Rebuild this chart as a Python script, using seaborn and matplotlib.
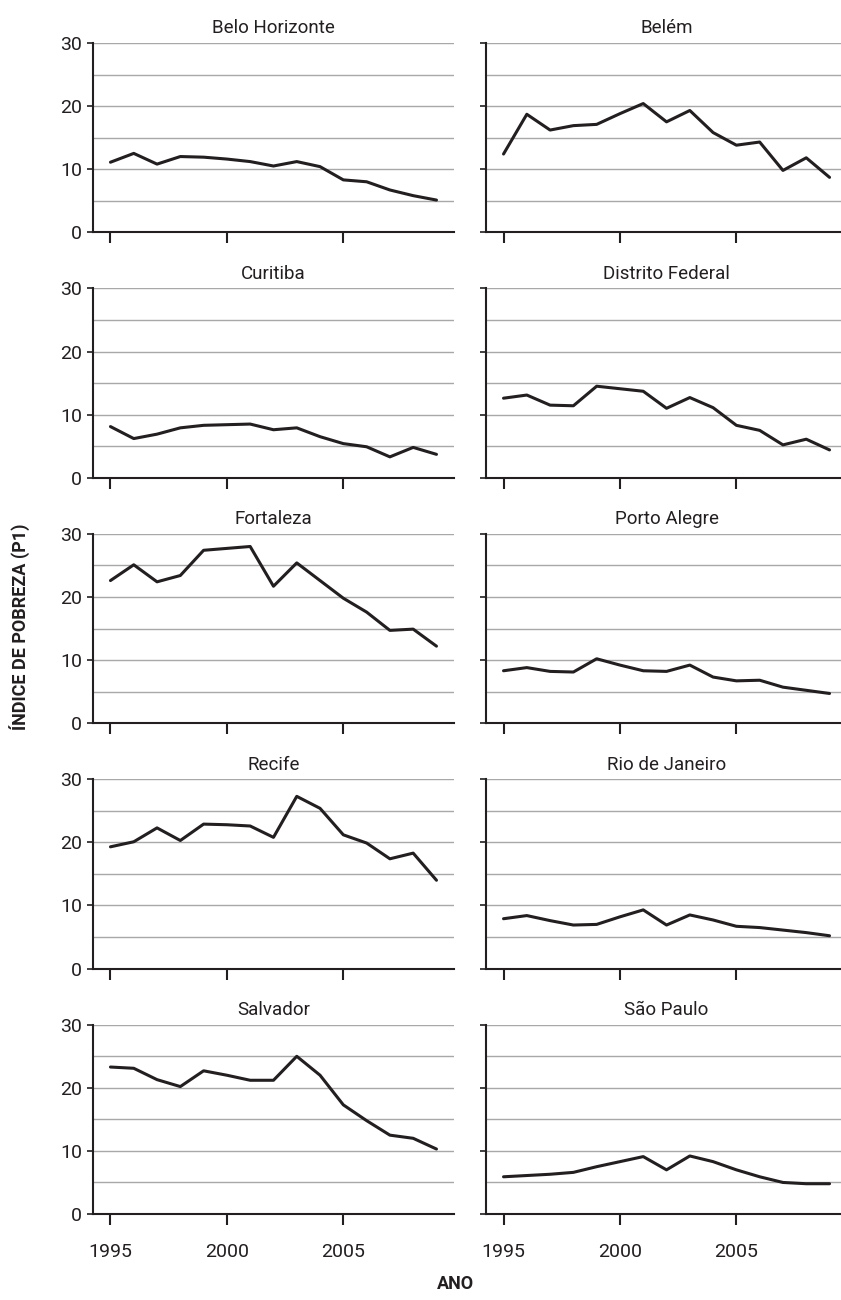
import pandas as pd
import seaborn as sns
import matplotlib.pyplot as plt

# Poverty index (P1) by metropolitan region, 1995-2009
anos = list(range(1995, 2010))

cidades = ["Belo Horizonte", "Belém", "Curitiba", "Distrito Federal", "Fortaleza",
           "Porto Alegre", "Recife", "Rio de Janeiro", "Salvador", "São Paulo"]

belo_horizonte = [11.1, 12.5, 10.8, 12.0, 11.9, 11.6, 11.2, 10.5, 11.2, 10.4, 8.3, 8.0, 6.7, 5.8, 5.1]
belem = [12.4, 18.7, 16.2, 16.9, 17.1, 18.8, 20.4, 17.5, 19.3, 15.8, 13.8, 14.3, 9.8, 11.8, 8.7]
curitiba = [8.1, 6.2, 6.9, 7.9, 8.3, 8.4, 8.5, 7.6, 7.9, 6.5, 5.4, 4.9, 3.3, 4.8, 3.7]
distrito_federal = [12.6, 13.1, 11.5, 11.4, 14.5, 14.1, 13.7, 11.0, 12.7, 11.1, 8.3, 7.5, 5.2, 6.1, 4.4]
fortaleza = [22.6, 25.1, 22.4, 23.4, 27.4, 27.7, 28.0, 21.7, 25.4, 22.6, 19.8, 17.6, 14.7, 14.9, 12.2]
porto_alegre = [8.3, 8.8, 8.2, 8.1, 10.2, 9.2, 8.3, 8.2, 9.2, 7.3, 6.7, 6.8, 5.7, 5.2, 4.7]
recife = [19.3, 20.1, 22.3, 20.3, 22.9, 22.8, 22.6, 20.8, 27.3, 25.4, 21.2, 19.9, 17.4, 18.3, 14.0]
rio_de_janeiro = [7.9, 8.4, 7.6, 6.9, 7.0, 8.2, 9.3, 6.9, 8.5, 7.7, 6.7, 6.5, 6.1, 5.7, 5.2]
salvador = [23.3, 23.1, 21.3, 20.2, 22.7, 22.0, 21.2, 21.2, 25.0, 22.0, 17.3, 14.8, 12.5, 12.0, 10.3]
sao_paulo = [5.9, 6.1, 6.3, 6.6, 7.5, 8.3, 9.1, 7.0, 9.2, 8.3, 7.0, 5.9, 5.0, 4.8, 4.8]

series = [belo_horizonte, belem, curitiba, distrito_federal, fortaleza,
          porto_alegre, recife, rio_de_janeiro, salvador, sao_paulo]

rows = []
for cidade, valores in zip(cidades, series):
    for ano, v in zip(anos, valores):
        rows.append({"cidade": cidade, "ano": ano, "p1": v})
df = pd.DataFrame(rows)

sns.set_theme(style="ticks")
plt.rcParams['font.family'] = ['Roboto', 'DejaVu Sans']

fig, axes = plt.subplots(5, 2, figsize=(8.41, 13.0), dpi=100, sharex=True, sharey=True)
fig.subplots_adjust(left=93 / 841, right=847 / 841, top=1 - 43 / 1300,
                    bottom=1 - 1214 / 1300, wspace=0.089, hspace=0.297)

for ax, cidade in zip(axes.flat, cidades):
    sub = df[df["cidade"] == cidade]
    sns.lineplot(data=sub, x="ano", y="p1", ax=ax, color="#231f20", linewidth=2.2)
    ax.set_title(cidade, fontsize=13.5, pad=7, color="#231f20")
    ax.set_xlim(1994.25, 2009.75)
    ax.set_ylim(0, 30)
    ax.set_yticks([0, 10, 20, 30])
    ax.set_yticks([5, 15, 25], minor=True)
    ax.set_xticks([1995, 2000, 2005])
    ax.grid(axis="y", which="both", color="#a8a8a8", linewidth=1.0)
    ax.set_axisbelow(True)
    ax.tick_params(axis="x", direction="out", length=8, width=1.5, color="#231f20",
                   labelsize=14, pad=13, labelcolor="#231f20")
    ax.tick_params(axis="y", which="major", direction="out", length=4, width=1.2,
                   color="#231f20", labelsize=14, pad=4, labelcolor="#231f20")
    ax.tick_params(axis="y", which="minor", length=0)
    ax.set_xlabel("")
    ax.set_ylabel("")
    for side in ["top", "right"]:
        ax.spines[side].set_visible(False)
    for side in ["left", "bottom"]:
        ax.spines[side].set_color("#231f20")
        ax.spines[side].set_linewidth(1.5)

fig.text(20 / 841, 1 - 627 / 1300, "ÍNDICE DE POBREZA (P1)", rotation=90,
         ha="center", va="center", fontsize=13, fontweight="bold", color="#231f20")
fig.text(455 / 841, 1 - 1284 / 1300, "ANO", ha="center", va="center",
         fontsize=13, fontweight="bold", color="#231f20")

fig.savefig("out.png", dpi=100)
